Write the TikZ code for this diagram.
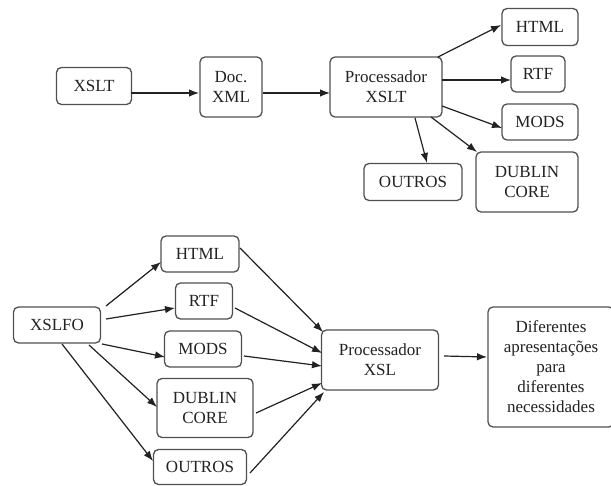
\documentclass[tikz,border=0pt]{standalone}
\usepackage{fontspec}
\setmainfont{Liberation Serif}
\usetikzlibrary{arrows.meta,calc}
\definecolor{bordc}{HTML}{505050}
\definecolor{txtc}{HTML}{222222}
\begin{document}
\begin{tikzpicture}[x=1pt,y=-1pt,
  box/.style={draw=bordc,line width=1.3pt,rounded corners=5pt,inner sep=0pt,align=center,
    text=txtc,font=\fontsize{17}{20}\selectfont},
  arr/.style={draw=txtc,line width=1.2pt,-{Latex[length=10pt,width=7.5pt]}}]
\useasboundingbox[fill=white] (0,0) rectangle (611,486);
% top part
\node[box,minimum width=75pt,minimum height=37pt] (xslt) at (94,86) {XSLT};
\node[box,minimum width=62pt,minimum height=60pt] (doc) at (231,87) {Doc.\\XML};
\node[box,minimum width=112pt,minimum height=60pt] (proct) at (386,87) {Processador\\XSLT};
\node[box,minimum width=76pt,minimum height=37pt] (html1) at (540,27) {HTML};
\node[box,minimum width=54pt,minimum height=36pt] (rtf1) at (538,74) {RTF};
\node[box,minimum width=76pt,minimum height=36pt] (mods1) at (540,122) {MODS};
\node[box,minimum width=102pt,minimum height=60pt] (dub1) at (527,182) {DUBLIN\\CORE};
\node[box,minimum width=98pt,minimum height=37pt] (out1) at (413,182) {OUTROS};
\draw[arr] ($(xslt)+(37,7)$) -- ($(doc)+(-32,6)$);
\draw[arr] ($(doc)+(32,6)$) -- ($(proct)+(-56,6)$);
\draw[arr] ($(proct)+(52,-30)$) -- ($(html1)+(-39,-2)$);
\draw[arr] ($(proct)+(56,-7)$) -- ($(rtf1)+(-27,6)$);
\draw[arr] ($(proct)+(56,19)$) -- ($(mods1)+(-38,6)$);
\draw[arr] ($(proct)+(45,30)$) -- ($(dub1)+(-50,-30)$);
\draw[arr] ($(proct)+(29,31)$) -- ($(out1)+(14,-19)$);
% bottom part
\node[box,minimum width=87pt,minimum height=36pt] (xslfo) at (57,325) {XSLFO};
\node[box,minimum width=78pt,minimum height=36pt] (html2) at (200,254) {HTML};
\node[box,minimum width=57pt,minimum height=36pt] (rtf2) at (204,301) {RTF};
\node[box,minimum width=77pt,minimum height=36pt] (mods2) at (203,349) {MODS};
\node[box,minimum width=96pt,minimum height=59pt] (dub2) at (205,408) {DUBLIN\\CORE};
\node[box,minimum width=93pt,minimum height=35pt] (out2) at (200,467) {OUTROS};
\node[box,minimum width=117pt,minimum height=60pt] (procx) at (380,360) {Processador\\XSL};
\node[box,minimum width=126pt,minimum height=120pt] (dif) at (551,367) {Diferentes\\apresentações\\para\\diferentes\\necessidades};
\draw[arr] ($(xslfo)+(49,-19)$) -- ($(html2)+(-39,8)$);
\draw[arr] ($(xslfo)+(49,-6)$) -- ($(rtf2)+(-29,7)$);
\draw[arr] ($(xslfo)+(45,19)$) -- ($(mods2)+(-38,8)$);
\draw[arr] ($(xslfo)+(32,20)$) -- ($(dub2)+(-48,-1)$);
\draw[arr] ($(xslfo)+(5,19)$) -- ($(out2)+(-47,-6)$);
\draw[arr] ($(html2)+(40,-6)$) -- ($(procx)+(-57,-28)$);
\draw[arr] ($(rtf2)+(31,7)$) -- ($(procx)+(-58,-7)$);
\draw[arr] ($(mods2)+(41,7)$) -- ($(procx)+(-58,6)$);
\draw[arr] ($(dub2)+(51,5)$) -- ($(procx)+(-58,23)$);
\draw[arr] ($(out2)+(50,6)$) -- ($(procx)+(-56,32)$);
\draw[arr] ($(procx)+(64,-4)$) -- ($(dif)+(-64,-10)$);
\end{tikzpicture}
\end{document}
